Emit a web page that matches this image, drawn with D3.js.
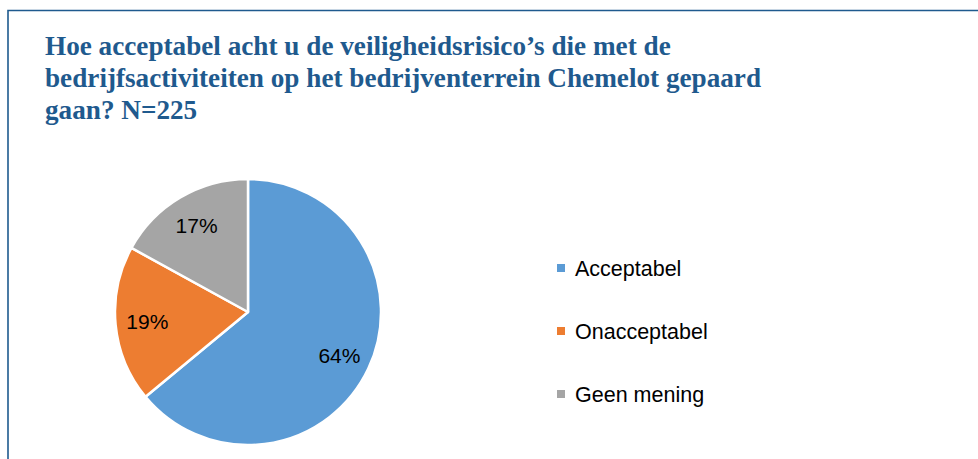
<!DOCTYPE html>
<html>
<head>
<meta charset="utf-8">
<script src="https://cdn.jsdelivr.net/npm/d3@7"></script>
<style>
  html, body { margin: 0; padding: 0; background: #fff; }
  svg { display: block; }
</style>
</head>
<body>
<svg id="chart" width="978" height="459"></svg>
<script>
const titleLines = [
  "Hoe acceptabel acht u de veiligheidsrisico\u2019s die met de",
  "bedrijfsactiviteiten op het bedrijventerrein Chemelot gepaard",
  "gaan? N=225"
];
const categories = ["Acceptabel", "Onacceptabel", "Geen mening"];
const shares = [64, 19, 17];
const colors = ["#5b9bd5", "#ed7d31", "#a5a5a5"];

const svg = d3.select("#chart");
const W = 978, H = 459;

// frame (runs off the right and bottom edge)
svg.append("path")
  .attr("d", `M8,${H + 5}V10.5H${W + 5}`)
  .attr("fill", "none")
  .attr("stroke", "#1f5a8e")
  .attr("stroke-width", 1.6);

// title
svg.append("g")
  .selectAll("text")
  .data(titleLines)
  .join("text")
  .attr("x", 45)
  .attr("y", (d, i) => 55 + i * 32)
  .attr("font-family", "'Liberation Serif', serif")
  .attr("font-weight", "bold")
  .attr("font-size", 27.2)
  .attr("fill", "#1f5a8e")
  .text(d => d);

// pie
const cx = 248, cy = 312, r = 133;
const data = categories.map((c, i) => ({ cat: c, value: shares[i] }));
const pie = d3.pie().sort(null).value(d => d.value);
const arc = d3.arc().innerRadius(0).outerRadius(r);
const color = d3.scaleOrdinal(categories, colors);

const gPie = svg.append("g").attr("transform", `translate(${cx},${cy})`);
const arcs = pie(data);

gPie.selectAll("path")
  .data(arcs)
  .join("path")
  .attr("d", arc)
  .attr("fill", d => color(d.data.cat))
  .attr("stroke", "#fff")
  .attr("stroke-width", 2.5)
  .attr("stroke-linejoin", "round");

const labelArc = d3.arc().innerRadius(r * 0.76).outerRadius(r * 0.76);
gPie.selectAll("text")
  .data(arcs)
  .join("text")
  .attr("transform", d => `translate(${labelArc.centroid(d)})`)
  .attr("text-anchor", "middle")
  .attr("dy", "0.36em")
  .attr("font-family", "'Liberation Sans', Arial, sans-serif")
  .attr("font-size", 21)
  .attr("fill", "#000")
  .text(d => d.data.value + "%");

// legend
const legend = svg.append("g").attr("transform", "translate(557,268)");
const item = legend.selectAll("g")
  .data(categories)
  .join("g")
  .attr("transform", (d, i) => `translate(0,${i * 63})`);

item.append("rect")
  .attr("x", 0).attr("y", -4)
  .attr("width", 8).attr("height", 8)
  .attr("fill", d => color(d));

item.append("text")
  .attr("x", 18)
  .attr("y", 7.5)
  .attr("font-family", "'Liberation Sans', Arial, sans-serif")
  .attr("font-size", 21.5)
  .attr("fill", "#000")
  .text(d => d);
</script>
</body>
</html>
